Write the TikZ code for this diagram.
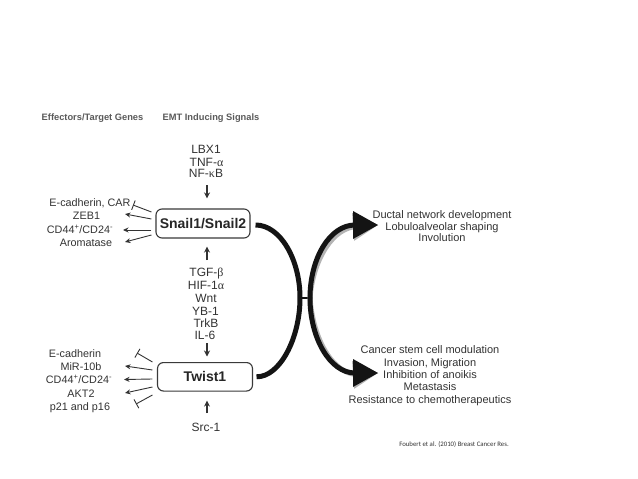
\documentclass[tikz,border=0pt]{standalone}
\usepackage{fontspec}
\setmainfont{Liberation Sans}
\newfontfamily\grkfont{Liberation Serif}
\newfontfamily\citefont{Carlito}
\usetikzlibrary{arrows.meta,calc}
\definecolor{txt}{HTML}{333333}
\definecolor{hdr}{HTML}{5A5A5A}
\definecolor{boxc}{HTML}{3A3A3A}
\definecolor{shadowc}{HTML}{B4B4B4}
\definecolor{arcc}{HTML}{141414}
\newcommand{\myalpha}{{\grkfont α}}
\newcommand{\mybeta}{{\grkfont β}}
\newcommand{\mykappa}{{\grkfont κ}}
\begin{document}
\begin{tikzpicture}[x=1pt,y=-1pt,
  lab/.style={anchor=base, inner sep=0pt, text=txt, font=\fontsize{10.8}{12}\selectfont},
  sig/.style={anchor=base, inner sep=0pt, text=txt, font=\fontsize{12}{13}\selectfont},
  outtext/.style={anchor=base, inner sep=0pt, text=txt, font=\fontsize{11}{12}\selectfont},
  hdrtext/.style={anchor=base west, inner sep=0pt, text=hdr, font=\bfseries\fontsize{9.3}{10}\selectfont},
  gene/.style={draw=boxc, line width=1.1pt, rounded corners=6pt, inner sep=0pt, text=black!85, font=\bfseries\fontsize{14}{16}\selectfont},
  sarrow/.style={draw=txt, line width=1.3pt, -{Stealth[length=6pt,width=6pt]}},
  act/.style={draw=txt, line width=0.9pt, -{Stealth[length=5.5pt,width=5pt]}},
  inh/.style={draw=txt, line width=0.9pt, -{Bar[width=10pt]}},
  bigarc/.style={draw=arcc, line width=5pt},
  bigarrow/.style={draw=arcc, line width=5pt, -{Triangle[length=25pt,width=28pt,line width=0pt]}},
  shadowarrow/.style={draw=shadowc, line width=5pt, -{Triangle[length=25pt,width=28pt,line width=0pt]}},
]
\fill[white] (0,0) rectangle (638,479);
\useasboundingbox (0,0) rectangle (638,479);

% headers
\node[hdrtext] (h1) at (41.5,120) {Effectors/Target Genes};
\node[hdrtext] (h2) at (162.5,120) {EMT Inducing Signals};

% boxes
\node[gene, minimum width=94pt, minimum height=29pt] (snail) at (203,223.5) {Snail1/Snail2};
\node[gene, minimum width=95pt, minimum height=28.5pt] (twist) at (205,376.8) {Twist1};

% signals above Snail
\node[sig] (lbx) at (206,153.3) {LBX1};
\node[sig] (tnf) at (206.5,166) {TNF-\myalpha};
\node[sig] (nfk) at (206,177.5) {NF-\mykappa B};

% signals between
\node[sig] (tgf) at (206.5,276.3) {TGF-\mybeta};
\node[sig] (hif) at (206,289.2) {HIF-1\myalpha};
\node[sig] (wnt) at (206,302.2) {Wnt};
\node[sig] (yb) at (205.5,315.2) {YB-1};
\node[sig] (trk) at (206,327.3) {TrkB};
\node[sig] (il6) at (205,339.3) {IL-6};
\node[sig] (src) at (206,431.3) {Src-1};

% vertical arrows
\coordinate (a1) at (207,185);
\coordinate (a2) at (207,260);
\coordinate (a3) at (207,343);
\coordinate (a4) at (207,413);
\draw[sarrow, shorten >=10pt] (a1) -- (a1 |- snail.north);
\draw[sarrow, shorten >=8pt] (a2) -- (a2 |- snail.south);
\draw[sarrow, shorten >=5.5pt] (a3) -- (a3 |- twist.north);
\draw[sarrow, shorten >=9pt] (a4) -- (a4 |- twist.south);

% Snail targets
\node[lab] (s1) at (90,206.9) {E-cadherin, CAR};
\node[lab] (s2) at (86.5,219.9) {ZEB1};
\node[lab] (s3) at (80,233.4) {CD44\textsuperscript{+}/CD24\textsuperscript{-}};
\node[lab] (s4) at (86,246.9) {Aromatase};
\coordinate (s1e) at (133,205);
\coordinate (s2e) at (125,214);
\coordinate (s3e) at (123,230);
\coordinate (s4e) at (125,242);
\draw[inh] ($(snail.west)+(-4,-11.5)$) -- (s1e);
\draw[act] ($(snail.west)+(-4,-4.5)$) -- (s2e);
\draw[act] ($(snail.west)+(-4,6.5)$) -- (s3e);
\draw[act] ($(snail.west)+(-4,11.5)$) -- (s4e);

% Twist targets
\node[lab] (t1) at (75,357.5) {E-cadherin};
\node[lab] (t2) at (81,370.3) {MiR-10b};
\node[lab] (t3) at (79,383.9) {CD44\textsuperscript{+}/CD24\textsuperscript{-}};
\node[lab] (t4) at (81,397) {AKT2};
\node[lab] (t5) at (80,410.5) {p21 and p16};
\coordinate (t1e) at (137,353);
\coordinate (t2e) at (125,366);
\coordinate (t3e) at (124,379.5);
\coordinate (t4e) at (125,393);
\coordinate (t5e) at (136,404);
\draw[inh] ($(twist.west)+(-4.5,-14.8)$) -- (t1e);
\draw[act] ($(twist.west)+(-4.5,-6.8)$) -- (t2e);
\draw[act] ($(twist.west)+(-4.5,2.2)$) -- (t3e);
\draw[act] ($(twist.west)+(-4.5,10.2)$) -- (t4e);
\draw[inh] ($(twist.west)+(-4.5,18.2)$) -- (t5e);

% big arcs
\coordinate (sE) at ($(snail.east)+(5,1.5)$);
\coordinate (tE) at ($(twist.east)+(3.5,0)$);
\coordinate (junL) at (300,298);
\coordinate (junR) at (310,298);
\coordinate (tipT) at (378,225);
\coordinate (tipB) at (378,373);

\draw[bigarc] (sE) .. controls (280,225) and (300,259) .. (junL)
  .. controls (300,338) and (280,377) .. (tE);
\draw[line width=1.6pt, arcc] (junL) -- (junR);

\begin{scope}[shift={(3,1.5)}]
\draw[shadowarrow] (junR) .. controls (310,258) and (330,225) .. (355,225) -- (tipT);
\draw[shadowarrow] (junR) .. controls (310,338) and (330,373) .. (355,373) -- (tipB);
\end{scope}
\draw[bigarrow] (junR) .. controls (310,258) and (330,225) .. (355,225) -- (tipT);
\draw[bigarrow] (junR) .. controls (310,338) and (330,373) .. (355,373) -- (tipB);

% outcomes
\node[outtext] (o1) at (442,218.9) {Ductal network development};
\node[outtext] (o2) at (442,230.6) {Lobuloalveolar shaping};
\node[outtext] (o3) at (442,241.6) {Involution};
\node[outtext] (o4) at (430,353.9) {Cancer stem cell modulation};
\node[outtext] (o5) at (430,366.2) {Invasion, Migration};
\node[outtext] (o6) at (430,378.2) {Inhibition of anoikis};
\node[outtext] (o7) at (430,390.6) {Metastasis};
\node[outtext] (o8) at (430,403.2) {Resistance to chemotherapeutics};

% citation
\node[anchor=base, inner sep=0pt, text=txt, font=\citefont\fontsize{6.8}{8}\selectfont] (cite) at (454,446.3) {Foubert et al. (2010) Breast Cancer Res.};
\end{tikzpicture}
\end{document}
